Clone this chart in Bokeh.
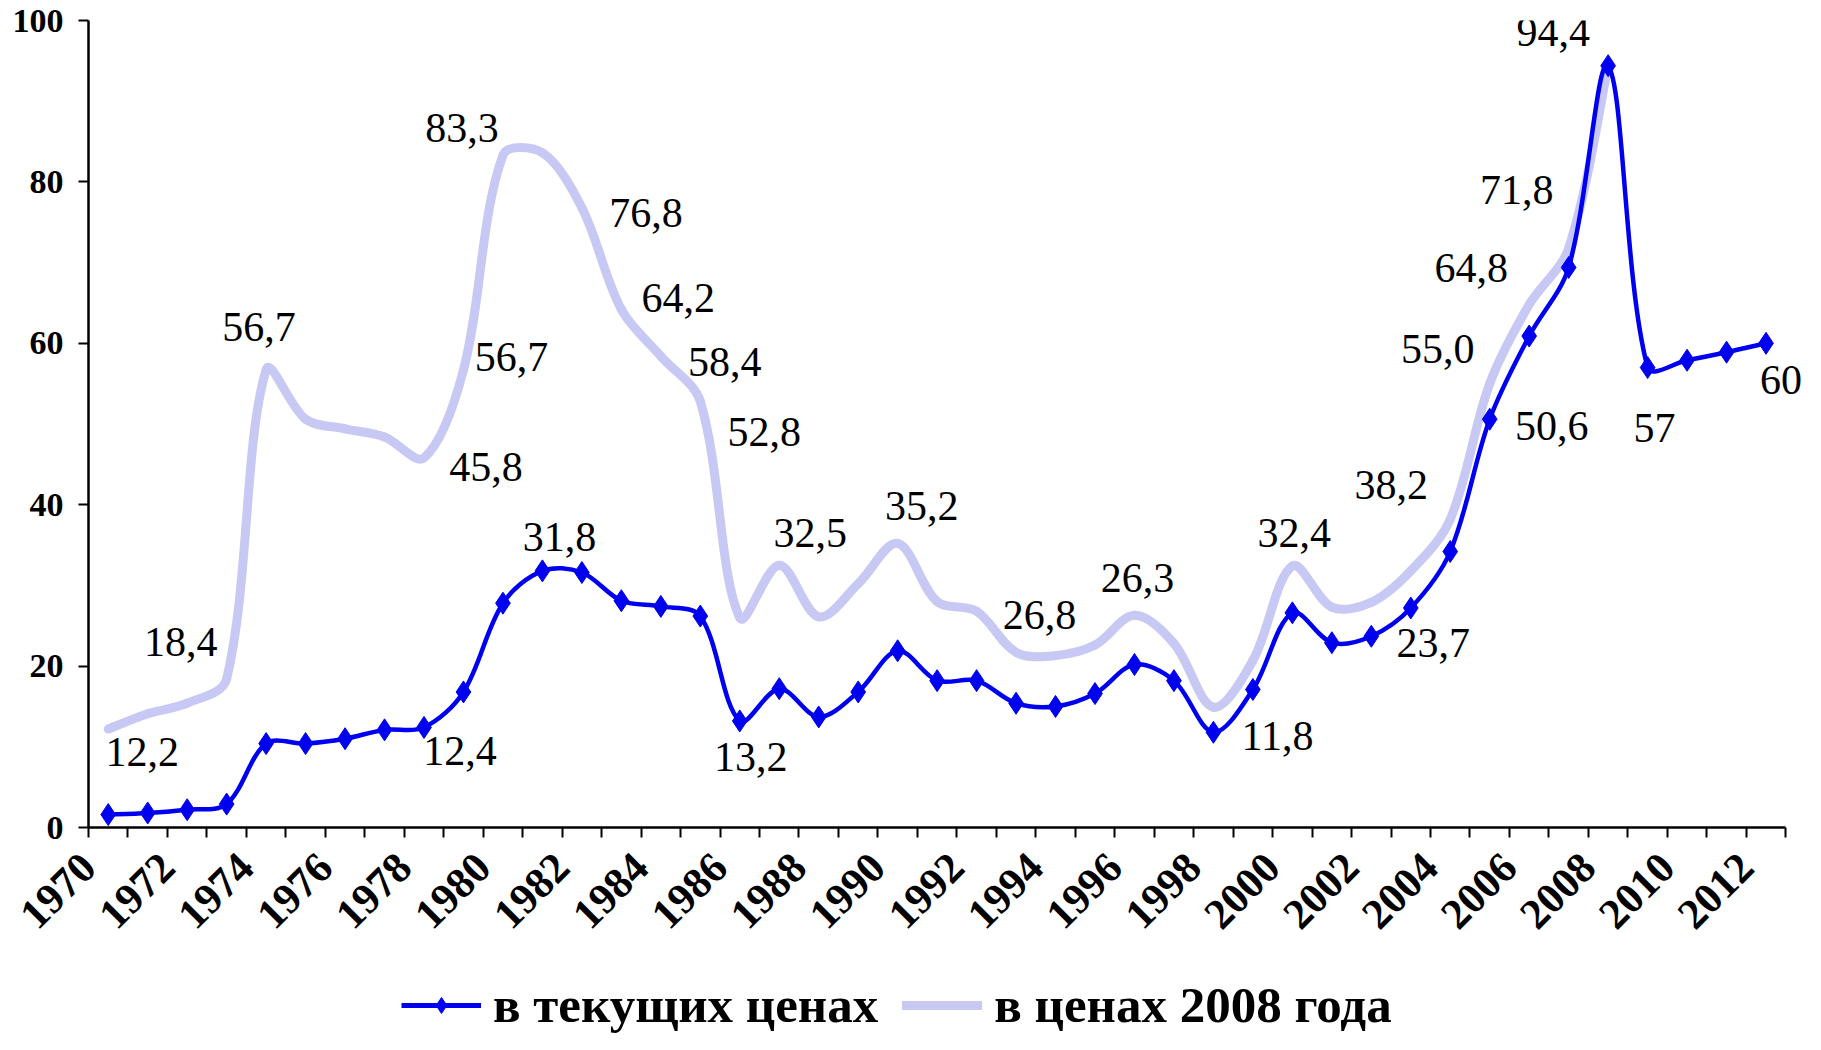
import math
from bokeh.plotting import figure
from bokeh.layouts import column
from bokeh.models import (ColumnDataSource, Range1d, FixedTicker, LabelSet,
                          Legend, LegendItem)
from bokeh.embed import file_html
from bokeh.resources import INLINE

# ---------------- data ----------------
years = list(range(1970, 2013))
current_prices = [1.6, 1.8, 2.2, 2.9, 10.4, 10.4, 11.0, 12.1, 12.4, 16.8,
                  27.8, 31.8, 31.6, 28.1, 27.4, 26.2, 13.2, 17.2, 13.7, 16.8,
                  21.9, 18.2, 18.2, 15.4, 15.0, 16.6, 20.2, 18.2, 11.8, 17.1,
                  26.6, 22.9, 23.7, 27.2, 34.2, 50.6, 60.9, 69.4, 94.4, 57.0,
                  57.9, 58.9, 60.0]
real_years = list(range(1970, 2009))
real_2008_prices = [12.2, 14.1, 15.4, 18.4, 56.7, 50.6, 49.4, 48.4, 45.8, 56.7,
                    83.3, 83.6, 76.8, 64.2, 58.4, 52.8, 26.0, 32.5, 26.1, 30.2,
                    35.2, 28.0, 26.8, 21.7, 21.3, 22.6, 26.3, 22.8, 14.9, 20.7,
                    32.4, 27.3, 27.9, 31.8, 38.2, 55.0, 64.8, 71.8, 94.4]
series_names = ["в текущих ценах", "в ценах 2008 года"]
y_ticks = [0, 20, 40, 60, 80, 100]

# which points carry a value label
real_label_years = [1970, 1973, 1974, 1978, 1979, 1980, 1982, 1983, 1984, 1985,
                    1987, 1990, 1992, 1996, 2000, 2004, 2005, 2006, 2007]
current_label_years = [1978, 1981, 1986, 1998, 2002, 2005, 2008, 2009, 2012]
current_label_decimals = [1, 1, 1, 1, 1, 1, 1, 0, 0]

# ---------------- label placement (screen px offsets) ----------------
real_label_offsets = [(34, -23), (-46, 37), (-7, 43), (62, -9), (48, 13), (-41, 27),
                      (64, -5), (57, 11), (64, -6), (64, -31), (31, 32), (24, 37),
                      (63, -4), (3, 37), (2, 33), (-59, 34), (-52, 35), (-58, 37),
                      (-52, 58)]
current_label_offsets = [(36, -24), (17, 34), (11, -36), (64, -4), (62, -7),
                         (62, -7), (-55, 34), (7, -60), (15, -37)]

BLUE = "#0000f0"
LIGHT = "#c8c8f4"
SERIF = "Liberation Serif"

W, H_MAIN, H_LEG = 1805, 958, 76
B_LEFT, B_TOP, B_BOTTOM = 88, 20, 131
X0, X1 = years[0] - 0.5, years[-1] + 1.0
Y0, Y1 = 0, 100
PX_X = (W - B_LEFT) / (X1 - X0)                  # screen px per year
PX_Y = (H_MAIN - B_TOP - B_BOTTOM) / (Y1 - Y0)   # screen px per unit


def smooth_segments(xs, ys):
    """Excel-like smoothed line: one cubic Bezier per pair of points,
    tangents weighted by neighbouring chord lengths (in screen space)."""
    n = len(xs)

    def dist(i, j):
        return math.hypot((xs[j] - xs[i]) * PX_X, (ys[j] - ys[i]) * PX_Y)

    out_cp, in_cp = [], []
    for i in range(n):
        ip, inx = max(i - 1, 0), min(i + 1, n - 1)
        dx, dy = xs[inx] - xs[ip], ys[inx] - ys[ip]
        d_in = dist(ip, i) if i > 0 else 0.0
        d_out = dist(i, inx) if i < n - 1 else 0.0
        tot = d_in + d_out
        f_out = d_out / tot / 3.0 if tot else 0.0
        f_in = d_in / tot / 3.0 if tot else 0.0
        if i == 0 or i == n - 1:
            f_out, f_in = f_out * 0.5, f_in * 0.5
        out_cp.append((xs[i] + dx * f_out, ys[i] + dy * f_out))
        in_cp.append((xs[i] - dx * f_in, ys[i] - dy * f_in))
    seg = dict(x0=xs[:-1], y0=ys[:-1], x1=xs[1:], y1=ys[1:],
               cx0=[c[0] for c in out_cp[:-1]], cy0=[c[1] for c in out_cp[:-1]],
               cx1=[c[0] for c in in_cp[1:]], cy1=[c[1] for c in in_cp[1:]])
    return ColumnDataSource(seg)


def fmt(v, d):
    return (f"{v:.{d}f}").replace(".", ",")


p = figure(width=W, height=H_MAIN, output_backend="svg", toolbar_location=None,
           x_range=Range1d(X0, X1), y_range=Range1d(Y0, Y1),
           min_border_left=B_LEFT, min_border_right=0, min_border_top=B_TOP,
           min_border_bottom=B_BOTTOM)
p.outline_line_color = None
p.xgrid.visible = False
p.ygrid.visible = False
p.background_fill_color = "white"

# light series (constant 2008 prices)
light_r = p.bezier(x0="x0", y0="y0", x1="x1", y1="y1", cx0="cx0", cy0="cy0",
                   cx1="cx1", cy1="cy1",
                   source=smooth_segments(real_years, real_2008_prices),
                   line_color=LIGHT, line_width=9, line_cap="round")

# blue series (current prices)
blue_r = p.bezier(x0="x0", y0="y0", x1="x1", y1="y1", cx0="cx0", cy0="cy0",
                  cx1="cx1", cy1="cy1",
                  source=smooth_segments(years, current_prices),
                  line_color=BLUE, line_width=4.5, line_cap="round")
blue_m = p.scatter(years, current_prices, marker="diamond", size=22,
                   fill_color=BLUE, line_color=BLUE)

# value labels
rl = ColumnDataSource(dict(
    x=real_label_years,
    y=[real_2008_prices[real_years.index(yv)] for yv in real_label_years],
    t=[fmt(real_2008_prices[real_years.index(yv)], 1) for yv in real_label_years],
    dx=[o[0] for o in real_label_offsets],
    dy=[o[1] for o in real_label_offsets]))
cl = ColumnDataSource(dict(
    x=current_label_years,
    y=[current_prices[years.index(yv)] for yv in current_label_years],
    t=[fmt(current_prices[years.index(yv)], d)
       for yv, d in zip(current_label_years, current_label_decimals)],
    dx=[o[0] for o in current_label_offsets],
    dy=[o[1] for o in current_label_offsets]))
for src in (rl, cl):
    p.add_layout(LabelSet(x="x", y="y", text="t", source=src, x_offset="dx",
                          y_offset="dy", text_align="center",
                          text_baseline="middle", text_font=SERIF,
                          text_font_size="42px", text_color="black"))

# axes
boundaries = [y - 0.5 for y in years] + [years[-1] + 0.5]
xa = p.xaxis[0]
xa.bounds = (boundaries[0], boundaries[-1])
xa.ticker = FixedTicker(ticks=boundaries, minor_ticks=[])
xa.major_label_overrides = {b: (str(int(b + 0.5)) if (int(b + 0.5) - years[0]) % 2 == 0
                                and b + 0.5 <= years[-1] else "")
                            for b in boundaries}
xa.major_label_orientation = math.pi / 4
xa.major_label_text_font = SERIF
xa.major_label_text_font_style = "bold"
xa.major_label_text_font_size = "43px"
xa.major_label_text_color = "black"
xa.major_tick_out = 10
xa.major_tick_in = 0
xa.minor_tick_out = 0
xa.major_label_standoff = 23
xa.axis_line_width = 2.5
xa.axis_line_color = "black"
xa.major_tick_line_width = 2
xa.major_tick_line_color = "black"

ya = p.yaxis[0]
ya.ticker = FixedTicker(ticks=y_ticks, minor_ticks=[])
ya.major_label_text_font = SERIF
ya.major_label_text_font_style = "bold"
ya.major_label_text_font_size = "34px"
ya.major_label_text_color = "black"
ya.major_tick_out = 10
ya.major_tick_in = 0
ya.minor_tick_out = 0
ya.major_label_standoff = 15
ya.axis_line_width = 2.5
ya.axis_line_color = "black"
ya.major_tick_line_width = 2
ya.major_tick_line_color = "black"

# legend strip below the chart (its proxy glyphs fall outside this strip's range)
pl = figure(width=W, height=H_LEG, output_backend="svg", toolbar_location=None,
            x_axis_type=None, y_axis_type=None,
            x_range=Range1d(0, 1), y_range=Range1d(0, 1),
            min_border_left=0, min_border_right=0, min_border_top=0,
            min_border_bottom=0)
pl.outline_line_color = None
pl.background_fill_color = "white"
leg_blue_line = pl.line(years, current_prices, line_color=BLUE, line_width=5)
leg_blue_mark = pl.scatter(years, current_prices, marker="diamond", size=22,
                           fill_color=BLUE, line_color=BLUE)
leg_light = pl.line(real_years, real_2008_prices, line_color=LIGHT, line_width=9,
                    line_cap="round")
legend = Legend(items=[LegendItem(label=series_names[0],
                                  renderers=[leg_blue_line, leg_blue_mark]),
                       LegendItem(label=series_names[1], renderers=[leg_light])],
                orientation="horizontal", location=(313, 0),
                label_text_font=SERIF, label_text_font_style="bold",
                label_text_font_size="51px", label_text_color="black",
                glyph_width=80, glyph_height=40, label_standoff=12, spacing=24,
                border_line_color=None, background_fill_alpha=0,
                padding=0, margin=0)
pl.add_layout(legend, "center")

open("out.html", "w").write(file_html(column(p, pl, spacing=0), INLINE))
